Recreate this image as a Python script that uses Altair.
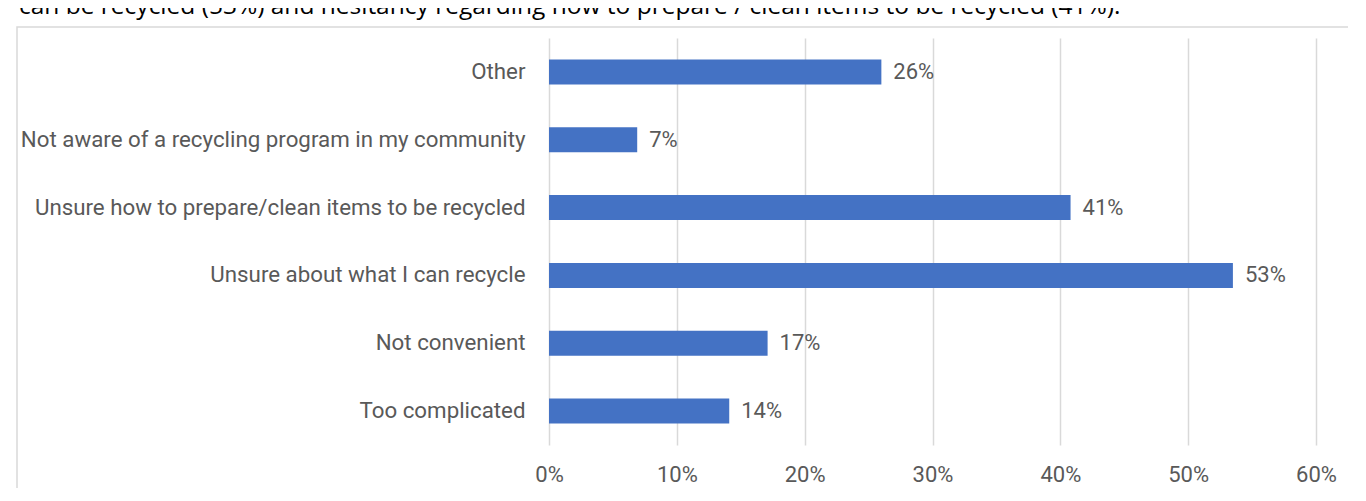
import altair as alt
import pandas as pd

categories = [
    "Other",
    "Not aware of a recycling program in my community",
    "Unsure how to prepare/clean items to be recycled",
    "Unsure about what I can recycle",
    "Not convenient",
    "Too complicated",
]
values = [0.26, 0.069, 0.408, 0.535, 0.171, 0.141]
labels = ["26%", "7%", "41%", "53%", "17%", "14%"]
x_ticks = [0, 0.1, 0.2, 0.3, 0.4, 0.5, 0.6]
intro_text = "can be recycled (53%) and hesitancy regarding how to prepare / clean items to be recycled (41%)."

df = pd.DataFrame({"cat": categories, "val": values, "lab": labels})

FONT = "Roboto"
GREY = "#595959"

y_enc = alt.Y(
    "cat:N",
    sort=categories,
    title=None,
    scale=alt.Scale(paddingInner=0.5, paddingOuter=0.25),
    axis=alt.Axis(
        domain=False, ticks=False, labelPadding=24, labelFontSize=22.3,
        labelFont=FONT, labelColor=GREY, labelLimit=700, grid=False,
    ),
)
x_enc = alt.X(
    "val:Q",
    title=None,
    scale=alt.Scale(domain=[0, 0.6], nice=False),
    axis=alt.Axis(
        values=x_ticks, format=".0%", labelFlush=False,
        domain=False, ticks=False, grid=True, gridColor="#d9d9d9", gridWidth=1.5,
        labelFontSize=22, labelFont=FONT, labelColor=GREY, labelPadding=19,
    ),
)

one = pd.DataFrame({"t": [intro_text]})

border = alt.Chart(one).mark_rect(
    fill=None, stroke="#d9d9d9", strokeWidth=1.5
).encode(
    x=alt.value(-532), x2=alt.value(900), y=alt.value(-11), y2=alt.value(500)
)

intro = alt.Chart(one).mark_text(
    align="left", baseline="alphabetic", fontSize=24.5, font="Open Sans", color="#000000"
).encode(x=alt.value(-530), y=alt.value(-24), text="t:N")

bars = alt.Chart(df).mark_bar(size=25, color="#4472C4").encode(x=x_enc, y=y_enc)

text = alt.Chart(df).mark_text(
    align="left", baseline="middle", dx=12, fontSize=22, font=FONT, color=GREY
).encode(x="val:Q", y=alt.Y("cat:N", sort=categories), text="lab:N")

chart = alt.layer(border, intro, bars, text).properties(
    width=767, height=407,
    autosize=alt.AutoSizeParams(type="none"),
    padding={"left": 541, "top": 30, "right": 32, "bottom": 43},
).configure_view(stroke=None)

chart.save("out.html", embed_options={"renderer": "svg", "actions": False})
